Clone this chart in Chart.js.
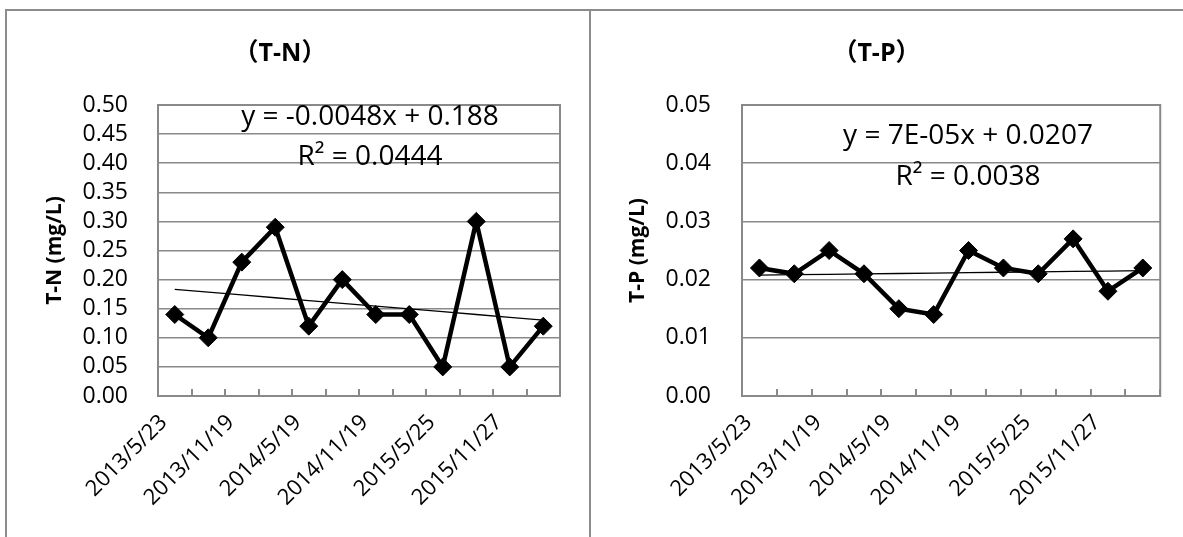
<!DOCTYPE html>
<html><head><meta charset="utf-8">
<script src="https://cdn.jsdelivr.net/npm/chart.js@4"></script>
<style>
html,body{margin:0;padding:0;background:#fff;}
#wrap{position:relative;width:1183px;height:537px;overflow:hidden;background:#fff;}
.frame{position:absolute;left:5px;top:9px;width:1300px;height:700px;border-left:2px solid #8c8c8c;border-top:2px solid #8c8c8c;}
.divider{position:absolute;left:589px;top:9px;width:2px;height:600px;background:#8c8c8c;}
canvas{position:absolute;top:0;}
</style></head><body>
<div id="wrap"><div class="frame"></div><div class="divider"></div>
<canvas id="c1" width="590" height="537" style="left:0"></canvas>
<canvas id="c2" width="593" height="537" style="left:590px"></canvas>
</div>
<script>
// ---- data ----
const dates = ['2013/5/23','2013/8/20','2013/11/19','2014/2/18','2014/5/19','2014/8/19',
               '2014/11/19','2015/2/24','2015/5/25','2015/8/25','2015/11/27','2016/2/23'];
const tnValues = [0.14,0.10,0.23,0.29,0.12,0.20,0.14,0.14,0.05,0.30,0.05,0.12];
const tpValues = [0.022,0.021,0.025,0.021,0.015,0.014,0.025,0.022,0.021,0.027,0.018,0.022];
const tnTrend = {slope:-0.0048, intercept:0.188};
const tpTrend = {slope:0.00007, intercept:0.0207};
const tnLabels = ['y = -0.0048x + 0.188','R² = 0.0444'];
const tpLabels = ['y = 7E-05x + 0.0207','R² = 0.0038'];
const tnAxis = {max:0.5, step:0.05};
const tpAxis = {max:0.05, step:0.01};

const FONT = "'Open Sans', 'Noto Sans CJK SC', sans-serif";
const GRID = '#898989';

const decor = {
  id:'decor',
  beforeDatasetsDraw(chart){
    const {ctx, chartArea:a} = chart;
    ctx.save(); ctx.strokeStyle = GRID; ctx.lineWidth = 2;
    ctx.strokeRect(a.left, a.top, a.right-a.left, a.bottom-a.top);
    ctx.restore();
  },
  afterDatasetsDraw(chart, args, o){
    const ctx = chart.ctx;
    ctx.save();
    ctx.fillStyle = '#000'; ctx.font = '28px ' + FONT;
    ctx.textAlign = 'center'; ctx.textBaseline = 'middle';
    o.lines.forEach((t,i)=>ctx.fillText(t, o.x, o.ys[i]));
    ctx.restore();
  }
};

function makeChart(id, cfg){
  return new Chart(document.getElementById(id), {
    type:'line',
    data:{
      labels: dates,
      datasets:[
        {data: cfg.values, borderColor:'#000', borderWidth:4.5, pointStyle:'rectRot',
         pointRadius:9, pointBackgroundColor:'#000', pointBorderColor:'#000', pointBorderWidth:1,
         tension:0, fill:false},
        {data: cfg.values.map((_,i)=>cfg.trend.intercept + cfg.trend.slope*(i+1)),
         borderColor:'#000', borderWidth:1.3, pointRadius:0, tension:0, fill:false}
      ]
    },
    options:{
      responsive:false, animation:false, events:[],
      layout:{padding:{left:0, right:cfg.padR, top:0, bottom:0}},
      plugins:{
        legend:{display:false}, tooltip:{enabled:false},
        title:{display:true, text:cfg.title, color:'#000',
               font:{family:FONT, size:25, weight:'bold'}, padding:{top:39, bottom:36}},
        decor:{lines:cfg.eq, x:cfg.eqX, ys:cfg.eqY}
      },
      scales:{
        x:{type:'category', offset:true,
           grid:{offset:true, drawOnChartArea:false, drawTicks:true, tickLength:-7, color:GRID, lineWidth:2},
           border:{display:true, color:GRID, width:2},
           ticks:{autoSkip:false, maxRotation:45, minRotation:45, padding:20.7, labelOffset:-11,
                  color:'#000', font:{family:FONT, size:22},
                  callback:(v,i)=> i%2===0 ? dates[i] : ''},
           afterFit:s=>{ s.height = 141; }},
        y:{min:0, max:cfg.axis.max,
           ticks:{stepSize:cfg.axis.step, autoSkip:false, maxTicksLimit:20, padding:cfg.tickPad,
                  color:'#000', font:{family:FONT, size:23},
                  callback:v=>Number(v).toFixed(2)},
           grid:{color:GRID, lineWidth:1.5, drawTicks:false},
           border:{display:true, color:GRID, width:2},
           title:{display:true, text:cfg.ytitle, color:'#000',
                  font:{family:FONT, size:21, weight:'bold'}, padding:{top:cfg.titlePad, bottom:0}},
           afterFit:s=>{ s.width = cfg.yWidth; }}
      }
    },
    plugins:[decor]
  });
}

makeChart('c1', {values:tnValues, trend:tnTrend, title:'（T-N）', ytitle:'T-N (mg/L)', axis:tnAxis,
  padR:30, yWidth:158, tickPad:30, titlePad:42, eq:tnLabels, eqX:370, eqY:[117,157]});
makeChart('c2', {values:tpValues, trend:tpTrend, title:'（T-P）', ytitle:'T-P (mg/L)', axis:tpAxis,
  padR:20, yWidth:152, tickPad:31, titlePad:35.4, eq:tpLabels, eqX:378, eqY:[136,177]});
</script>
</body></html>
